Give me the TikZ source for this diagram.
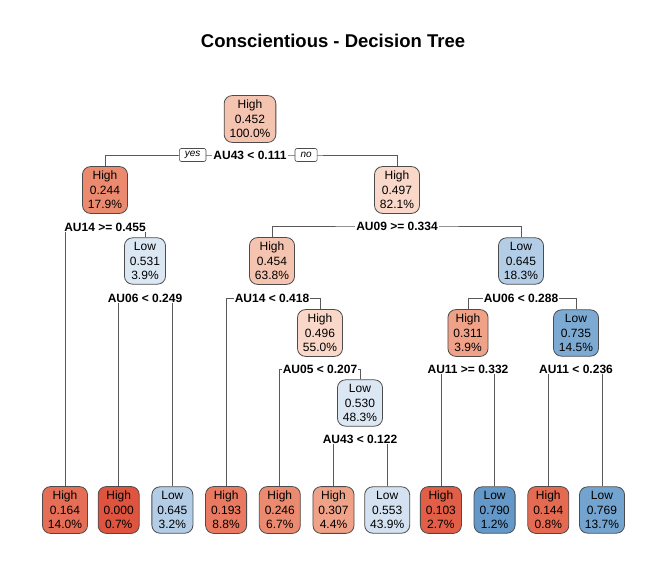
\documentclass[tikz,border=0pt]{standalone}
\usepackage{fontspec}
\setmainfont{Liberation Sans}
\usetikzlibrary{positioning,backgrounds}

\definecolor{r000}{RGB}{222,84,62}
\definecolor{r103}{RGB}{226,94,70}
\definecolor{r144}{RGB}{229,106,82}
\definecolor{r164}{RGB}{230,110,86}
\definecolor{r193}{RGB}{233,122,97}
\definecolor{r245}{RGB}{236,138,112}
\definecolor{r307}{RGB}{240,162,136}
\definecolor{r453}{RGB}{245,196,176}
\definecolor{r497}{RGB}{249,216,201}
\definecolor{b530}{RGB}{220,231,244}
\definecolor{b553}{RGB}{211,225,241}
\definecolor{b645}{RGB}{180,205,231}
\definecolor{b735}{RGB}{125,170,211}
\definecolor{b769}{RGB}{115,163,207}
\definecolor{b790}{RGB}{100,152,201}

\tikzset{
  treebox/.style={draw=black!70, line width=0.8pt, rounded corners=8pt, align=center,
    inner xsep=5.5pt, inner ysep=4.5pt, font=\fontsize{12}{14.5}\selectfont},
  splitlab/.style={fill=white, inner sep=1pt, font=\fontsize{12}{14}\selectfont\bfseries},
  yesno/.style={draw=black!70, fill=white, line width=0.6pt, rounded corners=2pt,
    inner xsep=5.5pt, inner ysep=1pt, minimum height=13pt, font=\fontsize{10}{11}\selectfont\itshape},
  branch/.style={draw=black!65, line width=0.8pt}
}

\begin{document}
\begin{tikzpicture}[x=1pt, y=-1pt]
			\useasboundingbox (0,0) rectangle (667,569);
			\node (title) at (333,41) {\fontsize{18.5}{22}\selectfont\bfseries Conscientious - Decision Tree};
			% inner nodes
			\node[treebox, fill=r453] (n1) at (250,119) {High\\0.452\\100.0\%};
			\node[treebox, fill=r245] (n2) at (105,190) {High\\0.244\\17.9\%};
			\node[treebox, fill=r497] (n3) at (397,190) {High\\0.497\\82.1\%};
			\node[treebox, fill=b530] (n5) at (145,261) {Low\\0.531\\3.9\%};
			\node[treebox, fill=r453] (n6) at (272,261) {High\\0.454\\63.8\%};
			\node[treebox, fill=b645] (n7) at (521,261) {Low\\0.645\\18.3\%};
			\node[treebox, fill=r497] (n13) at (320,333) {High\\0.496\\55.0\%};
			\node[treebox, fill=r307] (n14) at (468,333) {High\\0.311\\3.9\%};
			\node[treebox, fill=b735] (n15) at (576,333) {Low\\0.735\\14.5\%};
			\node[treebox, fill=b530] (n27) at (360,403) {Low\\0.530\\48.3\%};
			% leaves
			\foreach \nm/\x/\col/\cls/\val/\pct in {n4/65/r164/High/0.164/14.0, n10/118.7/r000/High/0.000/0.7,
				n11/172.4/b645/Low/0.645/3.2, n12/226.1/r193/High/0.193/8.8, n26/279.8/r245/High/0.246/6.7,
				n54/333.5/r307/High/0.307/4.4, n55/387.2/b553/Low/0.553/43.9, n28/440.9/r103/High/0.103/2.7,
				n29/494.6/b790/Low/0.790/1.2, n30/548.3/r144/High/0.144/0.8, n31/602/b769/Low/0.769/13.7}
				\node[treebox, fill=\col] (\nm) at (\x,510) {\cls\\\val\\\pct\%};
			% split labels
			\node[splitlab] (s1) at (250,155) {AU43 < 0.111};
			\node[splitlab] (s2) at (105,227) {AU14 >= 0.455};
			\node[splitlab] (s3) at (397,226) {AU09 >= 0.334};
			\node[splitlab] (s5) at (145,298) {AU06 < 0.249};
			\node[splitlab] (s6) at (272,298) {AU14 < 0.418};
			\node[splitlab] (s7) at (521,298) {AU06 < 0.288};
			\node[splitlab] (s13) at (320,369) {AU05 < 0.207};
			\node[splitlab] (s14) at (468,369) {AU11 >= 0.332};
			\node[splitlab] (s15) at (576,369) {AU11 < 0.236};
			\node[splitlab] (s27) at (360,439) {AU43 < 0.122};
			\node[yesno, left=6pt of s1] (yes) {yes};
			\node[yesno, right=7pt of s1] (no) {no};
			% branches
			\begin{scope}[on background layer]
				\fill[white] (0,0) rectangle (667,569);
				\draw[branch] (n2.north) |- (s1.center) -| (n3.north);
				\draw[branch] (n4.north) |- (s2.center) -| (n5.north);
				\draw[branch] (n10.north) |- (s5.center) -| (n11.north);
				\draw[branch] (n6.north) |- (s3.center) -| (n7.north);
				\draw[branch] (n12.north) |- (s6.center) -| (n13.north);
				\draw[branch] (n26.north) |- (s13.center) -| (n27.north);
				\draw[branch] (n54.north) |- (s27.center) -| (n55.north);
				\draw[branch] (n14.north) |- (s7.center) -| (n15.north);
				\draw[branch] (n28.north) |- (s14.center) -| (n29.north);
				\draw[branch] (n30.north) |- (s15.center) -| (n31.north);
			\end{scope}
		\end{tikzpicture}
\end{document}
